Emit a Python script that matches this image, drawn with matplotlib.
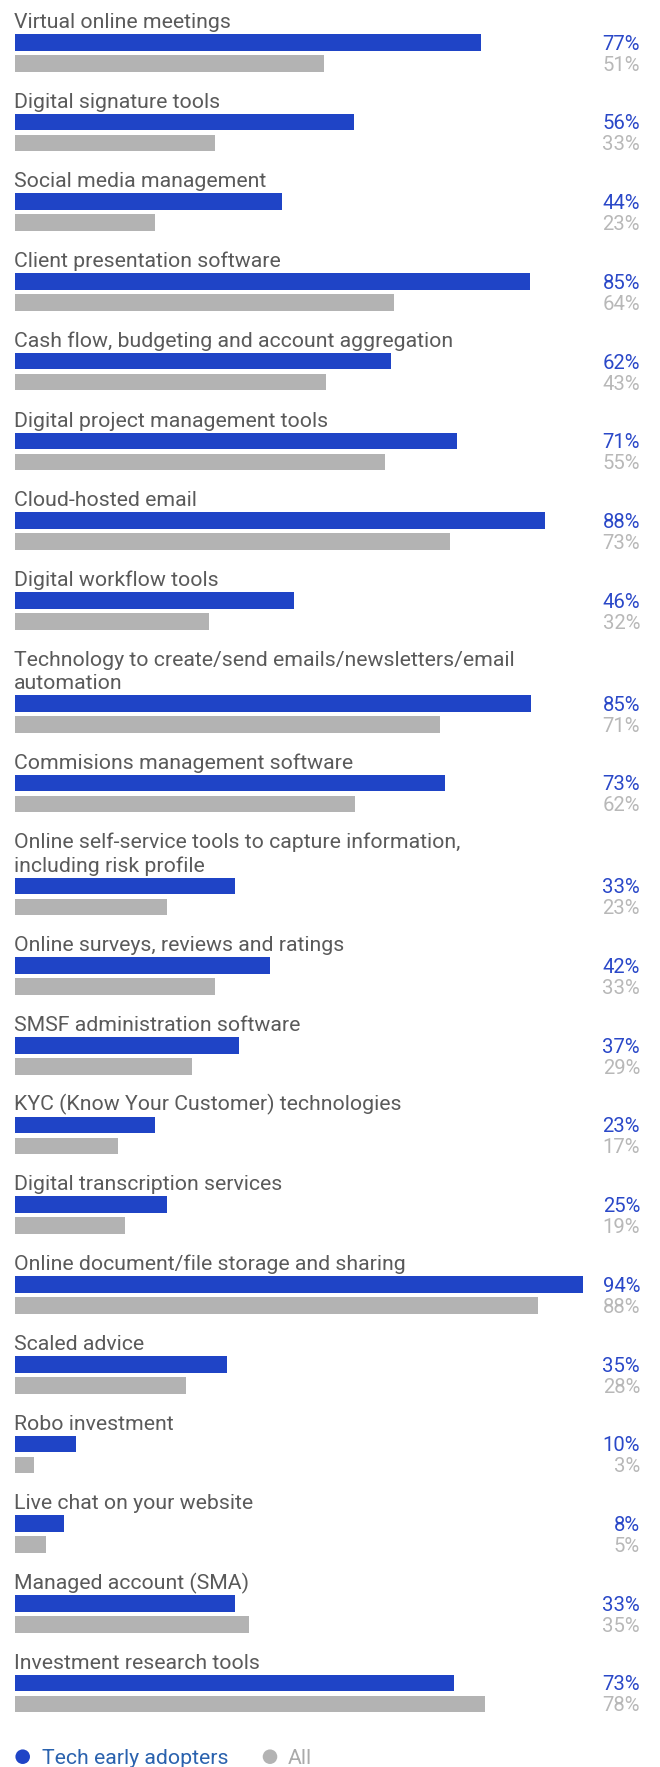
import matplotlib
matplotlib.use("Agg")
import matplotlib.pyplot as plt

# data
items = [
    "Virtual online meetings",
    "Digital signature tools",
    "Social media management",
    "Client presentation software",
    "Cash flow, budgeting and account aggregation",
    "Digital project management tools",
    "Cloud-hosted email",
    "Digital workflow tools",
    "Technology to create/send emails/newsletters/email\nautomation",
    "Commisions management software",
    "Online self-service tools to capture information,\nincluding risk profile",
    "Online surveys, reviews and ratings",
    "SMSF administration software",
    "KYC (Know Your Customer) technologies",
    "Digital transcription services",
    "Online document/file storage and sharing",
    "Scaled advice",
    "Robo investment",
    "Live chat on your website",
    "Managed account (SMA)",
    "Investment research tools",
]
# printed percentages
early_labels = [77, 56, 44, 85, 62, 71, 88, 46, 85, 73, 33, 42, 37, 23, 25, 94, 35, 10, 8, 33, 73]
all_labels = [51, 33, 23, 64, 43, 55, 73, 32, 71, 62, 23, 33, 29, 17, 19, 88, 28, 3, 5, 35, 78]
# bar lengths as drawn (they don't always agree with the printed numbers)
early_bars = [77, 56, 44, 85, 62, 73, 87.5, 46, 85.2, 71, 36.3, 42, 37, 23, 25, 93.8, 35, 10, 8, 36.3, 72.5]
all_bars = [51, 33, 23, 62.5, 51.3, 61.1, 71.9, 32, 70.1, 56.1, 25.1, 33, 29.2, 17, 18.1, 86.4, 28.2, 3.1, 5, 38.6, 77.6]
series_names = ["Tech early adopters", "All"]

BLUE = "#1f44c6"
GREY = "#b3b3b3"
TITLE_C = "#5a5a5a"
LAB_BLUE = "#2a48c8"
LAB_GREY = "#b8b8b8"
LEG_BLUE = "#2a62ae"

plt.rcParams['font.family'] = ['Roboto', 'DejaVu Sans']

W, H = 660, 1767
fig = plt.figure(figsize=(W / 100, H / 100), dpi=100)
ax = fig.add_axes([0, 0, 1, 1])

px_per_pct = 6.05
x0 = 15.5
ax.set_xlim(-x0 / px_per_pct, (W - x0) / px_per_pct)
ax.set_ylim(H, 0)
ax.axis("off")

pitch = 79.7
line_h = 23.3
bar_h = 16.7
fs = 15.3
fs_lab = 14.6

top = 0.0
blue_y, grey_y = [], []
for name in items:
    lines = name.split("\n")
    base = top + 28
    for k, ln in enumerate(lines):
        ax.text(-0.25, base + k * line_h, ln, ha="left", va="baseline",
                fontsize=fs, color=TITLE_C)
    bt = base + line_h * (len(lines) - 1) + 6
    blue_y.append(bt + bar_h / 2)
    grey_y.append(bt + 21 + bar_h / 2)
    top += pitch + line_h * (len(lines) - 1)

ax.barh(blue_y, early_bars, height=bar_h, left=0, color=BLUE)
ax.barh(grey_y, all_bars, height=bar_h, left=0, color=GREY)

lab_x = (640 - x0) / px_per_pct
for yb, yg, e, a in zip(blue_y, grey_y, early_labels, all_labels):
    ax.text(lab_x, yb + bar_h / 2 - 1, f"{e}%", ha="right", va="baseline",
            fontsize=fs_lab, color=LAB_BLUE)
    ax.text(lab_x, yg + bar_h / 2 - 1, f"{a}%", ha="right", va="baseline",
            fontsize=fs_lab, color=LAB_GREY)

# legend along the bottom edge
leg_y = 1756.7
dot_x = [(22.7 - x0) / px_per_pct, (270 - x0) / px_per_pct]
txt_x = [(41.7 - x0) / px_per_pct, (288 - x0) / px_per_pct]
ax.scatter(dot_x, [leg_y, leg_y], s=110, c=[BLUE, GREY], edgecolors="none")
for tx, name, c in zip(txt_x, series_names, [LEG_BLUE, "#aaaaaa"]):
    ax.text(tx, leg_y + 7.5, name, ha="left", va="baseline",
            fontsize=fs, color=c)

fig.savefig("out.png", dpi=100)
